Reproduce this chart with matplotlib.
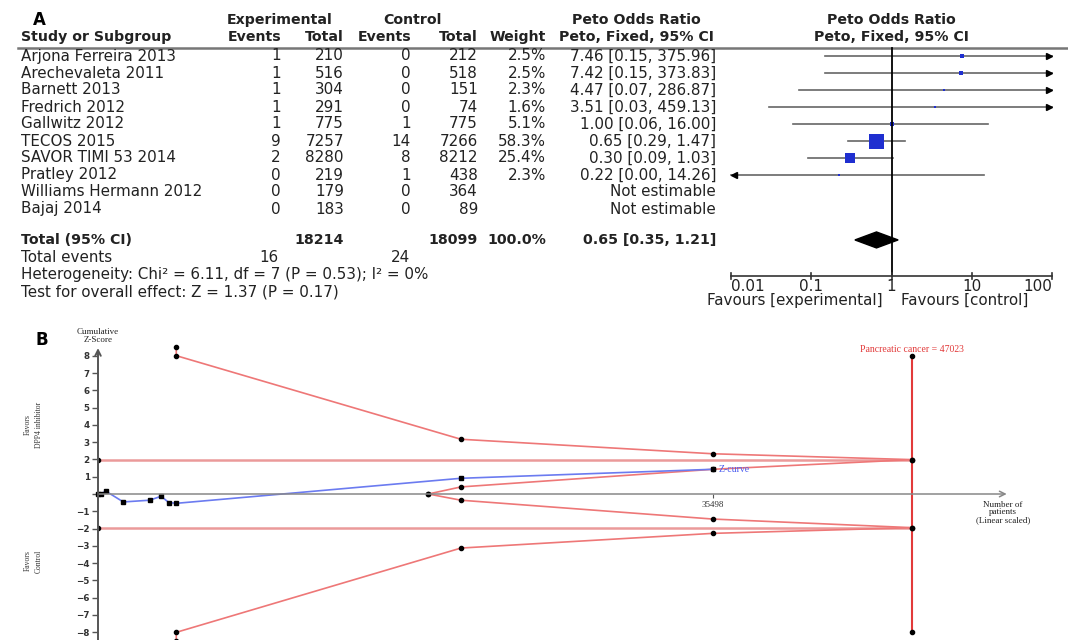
import numpy as np
import matplotlib
matplotlib.use("Agg")
import matplotlib.pyplot as plt
from matplotlib.transforms import blended_transform_factory
from matplotlib.patches import Polygon

W, H = 1068, 640

# ---- panel A data ----
studies = ["Arjona Ferreira 2013", "Arechevaleta 2011", "Barnett 2013", "Fredrich 2012",
           "Gallwitz 2012", "TECOS 2015", "SAVOR TIMI 53 2014", "Pratley 2012",
           "Williams Hermann 2012", "Bajaj 2014"]
exp_events = [1, 1, 1, 1, 1, 9, 2, 0, 0, 0]
exp_total = [210, 516, 304, 291, 775, 7257, 8280, 219, 179, 183]
ctl_events = [0, 0, 0, 0, 1, 14, 8, 1, 0, 0]
ctl_total = [212, 518, 151, 74, 775, 7266, 8212, 438, 364, 89]
weights = [2.5, 2.5, 2.3, 1.6, 5.1, 58.3, 25.4, 2.3, None, None]
odds = [7.46, 7.42, 4.47, 3.51, 1.00, 0.65, 0.30, 0.22, None, None]
ci_low = [0.15, 0.15, 0.07, 0.03, 0.06, 0.29, 0.09, 0.00, None, None]
ci_high = [375.96, 373.83, 286.87, 459.13, 16.00, 1.47, 1.03, 14.26, None, None]
total_exp, total_ctl = 18214, 18099
total_events_exp, total_events_ctl = 16, 24
pooled = (0.65, 0.35, 1.21)
axis_ticks = [0.01, 0.1, 1, 10, 100]
axis_labels = ["0.01", "0.1", "1", "10", "100"]

# ---- panel B data ----
zc_patients = [0, 170, 445, 1460, 2990, 3640, 4100, 4520, 20960, 35498]
zc_z = [0.0, 0.0, 0.17, -0.46, -0.36, -0.13, -0.50, -0.54, 0.91, 1.43]
bnd_patients = [4520, 4520, 20960, 35498, 47023]
bnd_upper = [8.49, 8.01, 3.17, 2.33, 1.99]
bnd_lower = [-8.49, -8.01, -3.13, -2.28, -1.95]
fut_patients = [19075, 20960, 35498, 47023]
fut_upper = [0.0, 0.41, 1.43, 1.99]
fut_lower = [0.0, -0.36, -1.45, -1.95]
ris = 47023
conv_z = 1.96

fig = plt.figure(figsize=(W / 100, H / 100), dpi=100)
txt = "#222222"

# forest axes: rows in units, x log scale
axf = fig.add_axes([731 / W, 0.5, (1052 - 731) / W, 0.5])
axf.set_xscale("log")
axf.set_xlim(0.01, 100)
axf.set_ylim((320 - 56) / 17, -56 / 17)
axf.axis("off")
tr = blended_transform_factory(fig.transFigure, axf.transData)

def col(x, y, s, ha="right", bold=False, size=None):
    fig.text(x / W, y, s, transform=tr, ha=ha, va="center", color=txt,
             fontsize=size or (10.2 if bold else 10.9),
             fontweight="bold" if bold else "normal")

fig.text(33 / W, 1 - 20 / H, "A", fontsize=12, fontweight="bold", va="center")

# headers
y1, y2 = -2.12, -1.12
col(280, y1, "Experimental", ha="center", bold=True)
col(412, y1, "Control", ha="center", bold=True)
col(636, y1, "Peto Odds Ratio", ha="center", bold=True)
col(891, y1, "Peto Odds Ratio", ha="center", bold=True)
col(21, y2, "Study or Subgroup", ha="left", bold=True)
col(281, y2, "Events", bold=True)
col(344, y2, "Total", bold=True)
col(411, y2, "Events", bold=True)
col(478, y2, "Total", bold=True)
col(546, y2, "Weight", bold=True)
col(636, y2, "Peto, Fixed, 95% CI", ha="center", bold=True)
col(891, y2, "Peto, Fixed, 95% CI", ha="center", bold=True)
axf.plot([18 / W, 1], [-0.47, -0.47], transform=tr, color="#777777", lw=1.8,
         clip_on=False)

for i, name in enumerate(studies):
    col(21, i, name, ha="left")
    col(281, i, str(exp_events[i]))
    col(344, i, str(exp_total[i]))
    col(411, i, str(ctl_events[i]))
    col(478, i, str(ctl_total[i]))
    if weights[i] is None:
        col(716, i, "Not estimable")
        continue
    col(546, i, f"{weights[i]:.1f}%")
    col(716, i, f"{odds[i]:.2f} [{ci_low[i]:.2f}, {ci_high[i]:.2f}]")
    lo, hi = max(ci_low[i], 0.01), min(ci_high[i], 100)
    axf.plot([lo, hi], [i, i], color="#666666", lw=1.2, clip_on=False)
    if ci_high[i] > 100:
        axf.plot(hi * 10 ** (-3 / 80), i, marker=">", color="black", ms=5, clip_on=False)
    if ci_low[i] < 0.01:
        axf.plot(lo * 10 ** (3 / 80), i, marker="<", color="black", ms=5, clip_on=False)
    side = 15 * np.sqrt(weights[i] / 58.3)
    axf.plot(odds[i], i, marker="s", color="#1f2fd0", ms=side * 0.72, mew=0,
             clip_on=False)

yt = 10.82
col(21, yt, "Total (95% CI)", ha="left", bold=True)
col(344, yt, str(total_exp), bold=True)
col(478, yt, str(total_ctl), bold=True)
col(546, yt, "100.0%", bold=True)
col(716, yt, f"{pooled[0]:.2f} [{pooled[1]:.2f}, {pooled[2]:.2f}]", bold=True)
axf.add_patch(Polygon([(pooled[1], yt), (pooled[0], yt - 0.47), (pooled[2], yt),
                       (pooled[0], yt + 0.47)], closed=True, color="black", clip_on=False))
col(21, 11.88, "Total events", ha="left")
col(278, 11.88, str(total_events_exp))
col(410, 11.88, str(total_events_ctl))
col(21, 12.88, "Heterogeneity: Chi² = 6.11, df = 7 (P = 0.53); I² = 0%", ha="left")
col(21, 13.88, "Test for overall effect: Z = 1.37 (P = 0.17)", ha="left")

ya = 12.94
axf.plot([1, 1], [-0.47, ya], color="black", lw=1.3, clip_on=False)
axf.plot([0.01, 100], [ya, ya], color="#333333", lw=1.2, clip_on=False)
for t, lab in zip(axis_ticks, axis_labels):
    axf.plot([t, t], [ya - 0.2, ya + 0.2], color="#333333", lw=1.2, clip_on=False)
    ha = "left" if t == axis_ticks[0] else ("right" if t == axis_ticks[-1] else "center")
    axf.text(t, 13.55, lab, ha=ha, va="center", fontsize=10.9, color=txt)
axf.text(0.78, 14.38, "Favours [experimental]", ha="right", va="center", fontsize=10.9,
         color=txt)
axf.text(1.3, 14.38, "Favours [control]", ha="left", va="center", fontsize=10.9,
         color=txt)

# ---- panel B ----
pxp = 0.017316
zpx = 17.27
axb = fig.add_axes([98 / W, 0, (W - 98) / W, 320 / H])
axb.set_xlim(0, (W - 98) / pxp)
axb.set_ylim(-(640 - 494) / zpx, (494 - 320) / zpx)
for s in ["top", "right", "left"]:
    axb.spines[s].set_visible(False)
axb.spines["bottom"].set_position(("data", 0))
axb.spines["bottom"].set_color("none")
axb.set_yticks(range(-8, 9))
axb.set_yticklabels(["" if v == 0 else str(v).replace("-", "\u2212") for v in range(-8, 9)])
axb.tick_params(axis="y", length=4, width=1, color="#555555", labelsize=6.3,
                labelcolor="#333333", pad=2)
axb.set_xticks([35498])
axb.set_xticklabels(["35498"], fontsize=6.5, family="Liberation Serif", color="#333333")
axb.tick_params(axis="x", length=3, width=0.8, color="#555555", pad=2)
for lab in axb.get_yticklabels():
    lab.set_fontweight("bold")

serif = "Liberation Serif"
red = "#ee7777"
axb.annotate("", xy=(52478, 0), xytext=(0, 0),
             arrowprops=dict(arrowstyle="->", color="#888888", lw=1.1, shrinkA=0, shrinkB=0))
axb.annotate("", xy=(0, 8.45), xytext=(0, -8.6), annotation_clip=False,
             arrowprops=dict(arrowstyle="->", color="#555555", lw=1.4, shrinkA=0, shrinkB=0))
axb.plot([0, ris], [conv_z, conv_z], color="#eb9a9a", lw=1.8)
axb.plot([0, ris], [-conv_z, -conv_z], color="#eb9a9a", lw=1.8)
axb.plot([0, 0], [conv_z, -conv_z], "o", color="black", ms=3)
axb.plot([ris, ris], [-8, 8], color="#e23a3a", lw=1.5, marker="o", mfc="black",
         mec="black", ms=3)
axb.plot(bnd_patients, bnd_upper, color=red, lw=1.2, marker="o", mfc="black",
         mec="black", ms=3, clip_on=False)
axb.plot(bnd_patients, bnd_lower, color=red, lw=1.2, marker="o", mfc="black",
         mec="black", ms=3)
axb.plot(fut_patients, fut_upper, color=red, lw=1.2, marker="o", mfc="black",
         mec="black", ms=3)
axb.plot(fut_patients, fut_lower, color=red, lw=1.2, marker="o", mfc="black",
         mec="black", ms=3)
axb.plot(zc_patients, zc_z, color="#6b7bf0", lw=1.2, marker="s", mfc="black",
         mec="black", ms=3, clip_on=False)

axb.annotate("Z-curve", (zc_patients[-1], zc_z[-1]), xytext=(4, 0),
             textcoords="offset points", va="center", ha="left", fontsize=7,
             family=serif, color="#4a5cf0")
axb.text(ris, 8.34, "Pancreatic cancer = 47023", ha="center", va="center", fontsize=7,
         family=serif, color="#e23a3a")
axb.text(52264, -1.07, "Number of\npatients\n(Linear scaled)", ha="center", va="center",
         fontsize=6.5, family=serif, color="#222222", linespacing=0.95)
axb.text(0, 9.15, "Cumulative\nZ-Score", ha="center", va="center", fontsize=6.5,
         family=serif, color="#222222", linespacing=0.9, clip_on=False)

fig.text(41.7 / W, 1 - 340 / H, "B", fontsize=12, fontweight="bold", va="center",
         ha="center")
fig.text(33.5 / W, 1 - 425 / H, "Favors\nDPP4 inhibitor", rotation=90, ha="center",
         va="center", fontsize=5.5, family=serif, color="#333333", linespacing=1.5)
fig.text(33.5 / W, 1 - 561 / H, "Favors\nControl", rotation=90, ha="center",
         va="center", fontsize=5.5, family=serif, color="#333333", linespacing=1.5)

fig.savefig("out.png", dpi=100)
